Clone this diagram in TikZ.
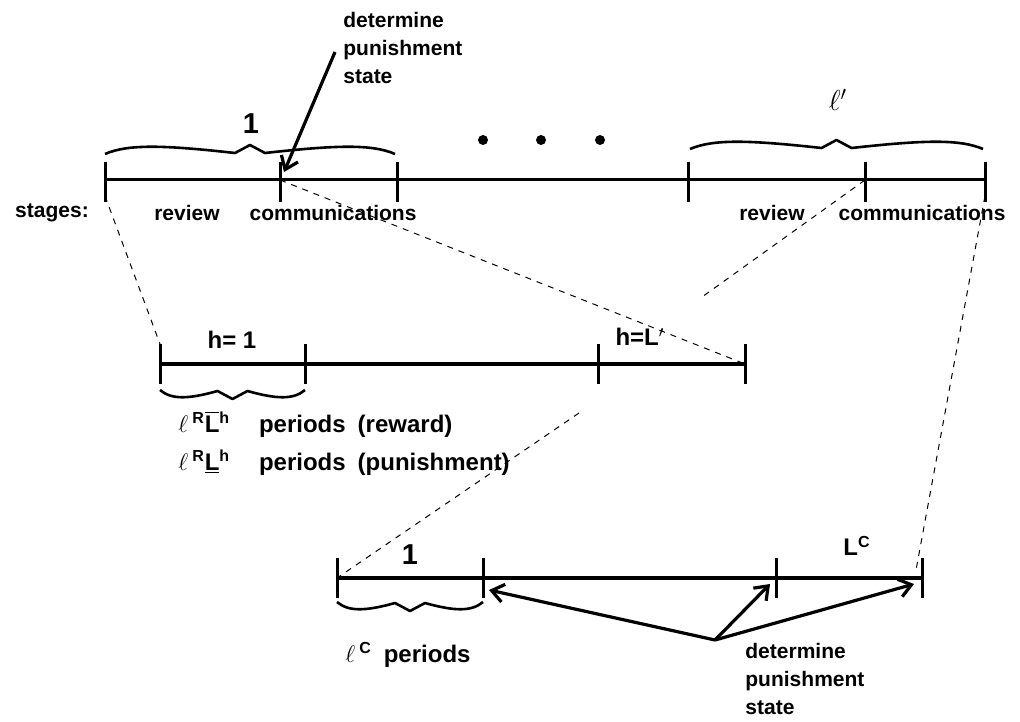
\documentclass[tikz,border=0pt]{standalone}
\usepackage{fontspec}
\setmainfont{Liberation Sans}
\usetikzlibrary{arrows.meta}

% wavy brace: left x, right x, y of the ends, direction (-1 up, 1 down)
\newcommand{\wavebrace}[4]{%
	\pgfmathsetmacro{\wbm}{(#1+#2)/2}%
	\pgfmathsetmacro{\wbw}{#2-#1}%
	\draw [bracestroke] (#1,#3) .. controls ({#1+0.08*\wbw},{#3+#4*10}) and ({\wbm-0.3*\wbw},{#3+#4*9}) .. ({\wbm-15},{#3+#4*1})
		-- (\wbm,{#3+#4*9}) -- ({\wbm+15},{#3+#4*1})
		.. controls ({\wbm+0.3*\wbw},{#3+#4*9}) and ({#2-0.08*\wbw},{#3+#4*10}) .. (#2,#3);}

\begin{document}
\begin{tikzpicture}[x=0.5pt,y=-0.5pt,
		every node/.style={inner sep=0pt,font=\fontsize{10.5}{14}\selectfont\bfseries},
		bar/.style={line width=1.5pt},
		thickbar/.style={line width=2.3pt},
		tick/.style={line width=1.5pt},
		guide/.style={line width=0.5pt,dash pattern=on 3pt off 3pt},
		pointer/.style={line width=1.6pt,-{Straight Barb[length=6pt,width=9pt]}},
		bracestroke/.style={line width=1.3pt,line join=round},
		dot/.style={circle,fill=black,minimum size=5pt}]
		\useasboundingbox (0,0) rectangle (1020,721);
		% stages
		\coordinate (t0) at (105,180);
		\coordinate (t1) at (280,180);
		\coordinate (t2) at (397,180);
		\coordinate (t3) at (688,180);
		\coordinate (t4) at (865,180);
		\coordinate (t5) at (985,180);
		\draw [bar] (t0) -- (t5);
		\foreach \p in {t0,t1,t2,t3,t4,t5}
			\draw [tick] ([yshift=9pt]\p) -- ([yshift=-11pt]\p);
		\wavebrace{105}{395}{154}{-1}
		\wavebrace{690}{983}{149}{-1}
		\node (one) at (251,124) {\Large 1};
		\node (lprime) at (838,100) {\Large $\ell'$};
		\node [dot] (d1) at (483,140) {};
		\node [dot] (d2) at (541,140) {};
		\node [dot] (d3) at (600,140) {};
		\node (stg) at (52,213) {stages:};
		\node (rev1) at (187,213) {review};
		\node (com1) at (333,213) {communications};
		\node (rev2) at (772,213) {review};
		\node (com2) at (922,213) {communications};
		\node [anchor=north west,align=left] (dettop) at (343,12) {determine\\punishment\\state};
		\coordinate (dt) at (335,52);
		\draw [pointer] (dt) -- ([xshift=2pt,yshift=4pt]t1);
		% review phases
		\coordinate (m0) at (160,364);
		\coordinate (m1) at (305,364);
		\coordinate (m2) at (598,364);
		\coordinate (m3) at (745,364);
		\draw [thickbar] (m0) -- (m3);
		\foreach \p in {m0,m1,m2,m3}
			\draw [tick] ([yshift=10pt]\p) -- ([yshift=-10pt]\p);
		\wavebrace{160}{305}{390}{1}
		\node (h1) at (232,340) {\large h= 1};
		\node (hL) at (640,337) {\large h=L$'$};
		\node [anchor=base west] (rew) at (178,432) {\large$\ell$\,\textsuperscript{R}$\overline{\mbox{L}}$\textsuperscript{h}\hspace{1.2em}periods\enspace (reward)};
		\node [anchor=base west] (pun) at (178,470) {\large$\ell$\,\textsuperscript{R}$\underline{\mbox{L}}$\textsuperscript{h}\hspace{1.2em}periods\enspace (punishment)};
		% communication phases
		\coordinate (b0) at (337,578);
		\coordinate (b1) at (483,578);
		\coordinate (b2) at (776,578);
		\coordinate (b3) at (922,578);
		\draw [thickbar] (b0) -- (b3);
		\foreach \p in {b0,b1,b2,b3}
			\draw [tick] ([yshift=10pt]\p) -- ([yshift=-10pt]\p);
		\wavebrace{337}{483}{602}{1}
		\node (c1) at (410,555) {\Large 1};
		\node (LC) at (857,546) {\large L\textsuperscript{C}};
		\node [anchor=base west] (lc) at (345,662) {\large$\ell$\,\textsuperscript{C}\enspace periods};
		\node [anchor=north west,align=left] (detbot) at (745,643) {determine\\punishment\\state};
		\coordinate (db) at (715,640);
		\draw [pointer] (db) -- ([xshift=3pt,yshift=-6pt]b1);
		\draw [pointer] (db) -- ([xshift=-3pt,yshift=-3pt]b2);
		\draw [pointer] (db) -- ([xshift=-4pt,yshift=-3pt]b3);
		% guides
		\coordinate (g4) at (702,297);
		\coordinate (g2) at (579,413);
		\draw [guide] ([yshift=-8pt]t0) -- ([yshift=10pt]m0);
		\draw [guide] (t1) -- (m3);
		\draw [guide] (t4) -- (g4);
		\draw [guide] ([yshift=-8pt]t5) -- ([xshift=-3pt,yshift=4pt]b3);
		\draw [guide] (g2) -- (b0);
	\end{tikzpicture}
\end{document}
